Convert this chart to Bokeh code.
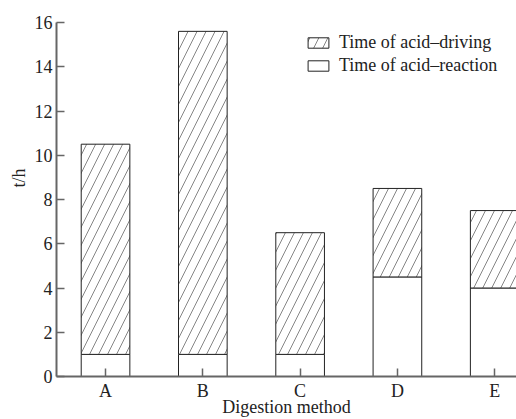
import numpy as np
from bokeh.plotting import figure
from bokeh.models import Range1d, FixedTicker, Legend, LegendItem, Title
from bokeh.embed import file_html
from bokeh.resources import INLINE

methods = ["A", "B", "C", "D", "E"]
reaction_time = [1.0, 1.0, 1.0, 4.5, 4.0]
driving_time = [9.5, 14.6, 5.5, 4.0, 3.5]
y_ticks = [0, 2, 4, 6, 8, 10, 12, 14, 16]

FONT = "Liberation Serif"
x = np.arange(len(methods))
reaction = np.array(reaction_time)
total = reaction + np.array(driving_time)

p = figure(width=516, height=419, output_backend="svg", toolbar_location=None,
           x_range=Range1d(-0.504, 4.224), y_range=Range1d(0, 16),
           min_border_left=56, min_border_right=0, min_border_top=22, min_border_bottom=43)
p.outline_line_color = None
p.xgrid.visible = False
p.ygrid.visible = False
p.background_fill_color = "white"

r_react = p.vbar(x=x, width=0.5, bottom=0, top=reaction, fill_color="white",
                 line_color="#222222", line_width=1)
r_drive = p.vbar(x=x, width=0.5, bottom=reaction, top=total, fill_color="white",
                 line_color="#222222", line_width=1, hatch_pattern="/",
                 hatch_color="#666666", hatch_scale=18, hatch_weight=0.8)

for ax in (p.xaxis[0], p.yaxis[0]):
    ax.axis_line_color = "#666666"
    ax.axis_line_width = 2
    ax.major_tick_line_color = "#666666"
    ax.major_tick_line_width = 1.5
    ax.major_tick_in = 8
    ax.major_tick_out = 0
    ax.minor_tick_line_color = None
    ax.major_label_text_font = FONT
    ax.major_label_text_font_size = "18px"
    ax.major_label_text_color = "#222222"

p.yaxis.ticker = FixedTicker(ticks=y_ticks)
p.yaxis.major_label_standoff = 4
p.xaxis.ticker = FixedTicker(ticks=list(x))
p.xaxis.major_label_overrides = {int(i): m for i, m in zip(x, methods)}
p.xaxis.major_label_standoff = 4
p.xaxis.axis_label = "Digestion method"
p.xaxis.axis_label_text_font = FONT
p.xaxis.axis_label_text_font_size = "18px"
p.xaxis.axis_label_text_font_style = "normal"
p.xaxis.axis_label_text_color = "#222222"
p.xaxis.axis_label_standoff = -7

ytitle = Title(text="t/h", align="left", offset=189, standoff=6,
               text_font=FONT, text_font_size="18px", text_font_style="normal",
               text_color="#222222")
p.add_layout(ytitle, "left")

legend = Legend(items=[LegendItem(label="Time of acid\u2013driving", renderers=[r_drive]),
                       LegendItem(label="Time of acid\u2013reaction", renderers=[r_react])],
                location=(249, 300), padding=0, margin=0, spacing=2,
                glyph_width=26, glyph_height=13, label_height=21, label_standoff=8,
                label_text_font=FONT, label_text_font_size="18px", label_text_color="#222222",
                border_line_color=None, background_fill_alpha=0)
p.add_layout(legend)

open("out.html", "w").write(file_html(p, INLINE))
